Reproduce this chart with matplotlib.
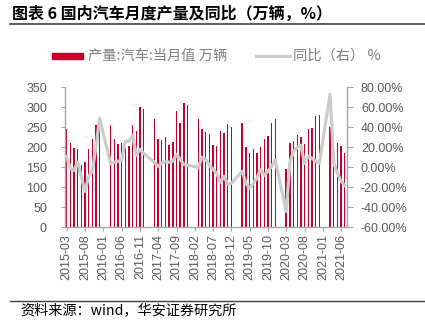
import matplotlib
matplotlib.use("Agg")
import matplotlib.pyplot as plt
from matplotlib.lines import Line2D
from matplotlib.patches import Rectangle
import pandas as pd

# ---- data ----
months = [
    "2015-03", "2015-04", "2015-05", "2015-06", "2015-07", "2015-08", "2015-09", "2015-10", "2015-11", "2015-12",
    "2016-03", "2016-04", "2016-05", "2016-06", "2016-07", "2016-08", "2016-09", "2016-10", "2016-11", "2016-12",
    "2017-03", "2017-04", "2017-05", "2017-06", "2017-07", "2017-08", "2017-09", "2017-10", "2017-11", "2017-12",
    "2018-03", "2018-04", "2018-05", "2018-06", "2018-07", "2018-08", "2018-09", "2018-10", "2018-11", "2018-12",
    "2019-03", "2019-04", "2019-05", "2019-06", "2019-07", "2019-08", "2019-09", "2019-10", "2019-11", "2019-12",
    "2020-03", "2020-04", "2020-05", "2020-06", "2020-07", "2020-08", "2020-09", "2020-10", "2020-11", "2020-12",
    "2021-03", "2021-04", "2021-05", "2021-06", "2021-07",
]
production = [
    245, 210, 198, 195, 156, 163, 196, 220, 255, 258,
    256, 220, 208, 212, 198, 203, 257, 241, 300, 297,
    270, 220, 218, 225, 206, 213, 291, 260, 311, 305,
    270, 245, 238, 233, 206, 203, 242, 237, 258, 252,
    260, 202, 187, 196, 187, 201, 222, 229, 262, 271,
    146, 211, 216, 231, 226, 208, 246, 248, 278, 281,
    252, 227, 210, 203, 185,
]
yoy = [
    11, -1, -3, 5, -9, -24, -9, -4, 21, 49,
    4, 5, 6, 7, 26, 26, 32, 12, 18, 14,
    5, 1, 4, 6, 5, 6, 13, 8, 3, 2,
    0, 10, 8, 2, -2, -6, -15, -9, -17, -16,
    -4, -16, -21, -16, -11, -2, -8, -4, 1, 7,
    -44, 5, 16, 20, 22, 4, 11, 9, 6, 4,
    73, 4, -6, -14, -18,
]
tick_labels = ["2015-03", "2015-08", "2016-01", "2016-06", "2016-11", "2017-04", "2017-09",
               "2018-02", "2018-07", "2018-12", "2019-05", "2019-10", "2020-03", "2020-08",
               "2021-01", "2021-06"]
left_ticks = [0, 50, 100, 150, 200, 250, 300, 350]
right_ticks = [-60, -40, -20, 0, 20, 40, 60, 80]

title = "图表 6 国内汽车月度产量及同比（万辆，%）"
legend_bar = "产量:汽车:当月值 万辆"
legend_line = "同比（右） %"
source = "资料来源：wind，华安证券研究所"

# ---- style ----
CJK = ["Noto Sans CJK SC", "DejaVu Sans"]
NUM = ["Liberation Sans", "DejaVu Sans"]
RED = "#C4002F"
GRAY_LINE = "#CCCCCC"
TXT = "#595959"
SPINE = "#A6A6A6"

W, H = 425, 327
fig = plt.figure(figsize=(W / 100, H / 100), dpi=100)

def fx(px):
    return px / W

def fy(py):
    return 1 - py / H

ax = fig.add_axes([fx(65), fy(227.3), fx(347) - fx(65), fy(87.3) - fy(227.3)])
ax2 = ax.twinx()

dates = pd.to_datetime(months)
ax.bar(dates, production, width=12, color=RED, zorder=2)
ax.set_ylim(0, 350)
ax.set_yticks(left_ticks)
ax.set_yticklabels([str(v) for v in left_ticks])

ax2.plot(dates, yoy, color=GRAY_LINE, lw=2.3, zorder=3, solid_joinstyle="round")
ax2.set_ylim(-60, 80)
ax2.set_yticks(right_ticks)
ax2.set_yticklabels([f"{v:.2f}%" for v in right_ticks])

ax.set_xlim(pd.Timestamp("2015-02-16"), pd.Timestamp("2021-07-20"))
ax.set_xticks(pd.to_datetime(tick_labels))
ax.set_xticklabels(tick_labels, rotation=90)

ax2.set_zorder(ax.get_zorder() + 1)
ax2.patch.set_visible(False)

for a in (ax, ax2):
    a.spines["top"].set_visible(False)
    for s in ("left", "right", "bottom"):
        a.spines[s].set_color(SPINE)
        a.spines[s].set_linewidth(1.0)
ax.spines["right"].set_visible(False)
ax2.spines["left"].set_visible(False)
ax2.spines["bottom"].set_visible(False)

ax.tick_params(axis="x", length=3, width=0.8, color=SPINE, pad=2, labelsize=9, labelcolor=TXT)
ax.tick_params(axis="y", length=3, width=0.8, color=SPINE, pad=10, labelsize=9, labelcolor=TXT)
ax2.tick_params(axis="y", length=4, width=0.8, color=SPINE, pad=6, labelsize=9, labelcolor=TXT)
for lab in ax.get_xticklabels() + ax.get_yticklabels() + ax2.get_yticklabels():
    lab.set_family(NUM)

# title and rules
fig.text(fx(12), fy(14), title, fontsize=11.5, fontweight="bold", family=CJK, va="center", ha="left", color="#000000")
fig.add_artist(Line2D([fx(10), fx(425)], [fy(24), fy(24)], color="#404040", lw=1.2))
fig.add_artist(Line2D([fx(10), fx(425)], [fy(301), fy(301)], color="#404040", lw=1.0))
fig.text(fx(20), fy(311), source, fontsize=10.2, family=CJK, va="center", ha="left", color="#000000")

# legend
fig.add_artist(Rectangle((fx(52), fy(59)), fx(83) - fx(52), fy(53) - fy(59), color=RED, transform=fig.transFigure))
fig.text(fx(88), fy(56), legend_bar, fontsize=10.3, family=CJK, va="center", ha="left", color="#7F7F7F")
fig.add_artist(Line2D([fx(256), fx(290)], [fy(56), fy(56)], color=GRAY_LINE, lw=2.3))
fig.text(fx(293), fy(56), legend_line, fontsize=10.3, family=CJK, va="center", ha="left", color="#7F7F7F")

fig.savefig("out.png", dpi=100)
